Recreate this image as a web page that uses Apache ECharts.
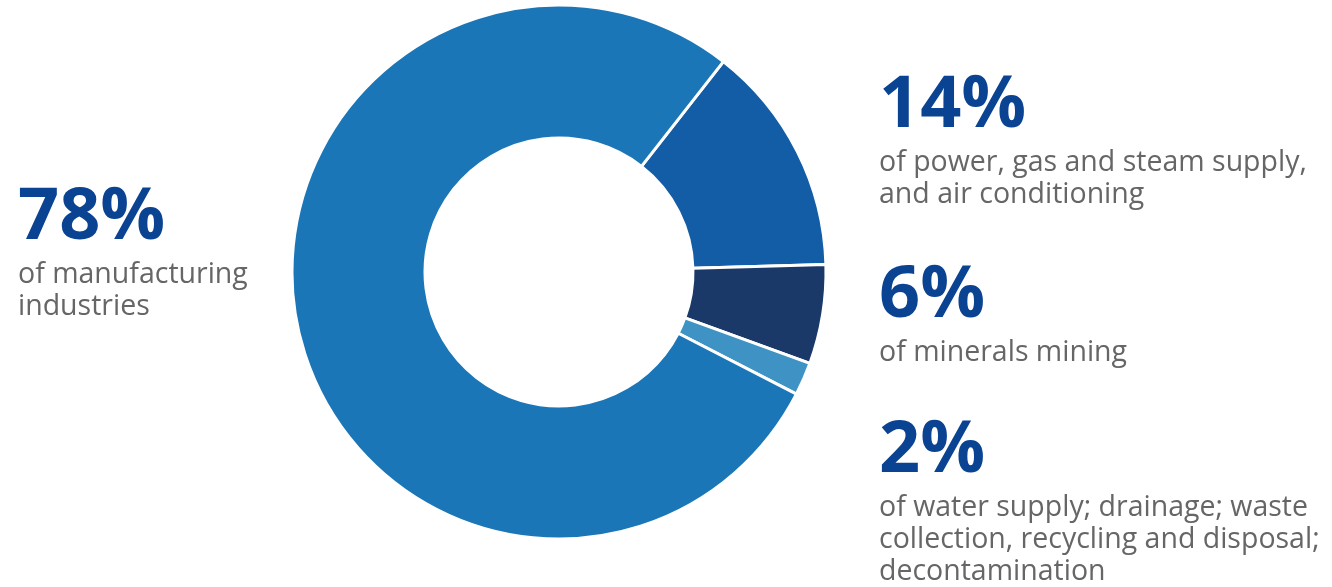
<!DOCTYPE html>
<html><head><meta charset="utf-8">
<script src="https://cdn.jsdelivr.net/npm/echarts@6/dist/echarts.min.js"></script>
<style>html,body{margin:0;padding:0;background:#fff}#c{width:1332px;height:587px}</style>
</head><body><div id="c"></div>
<script>
var categories = ['power, gas and steam supply, and air conditioning','minerals mining','water supply; drainage; waste collection, recycling and disposal; decontamination','manufacturing industries'];
var values = [14, 6, 2, 78];
var colors = ['#135ca6', '#1b3968', '#3f93c4', '#1b76b8'];
var pctLabels = ['14%', '6%', '2%', '78%'];
var descLines = [
  ['of power, gas and steam supply,', 'and air conditioning'],
  ['of minerals mining'],
  ['of water supply; drainage; waste', 'collection, recycling and disposal;', 'decontamination'],
  ['of manufacturing', 'industries']
];
var labelPos = [[879, 70], [879, 260], [879, 415], [18, 182]];

var chart = echarts.init(document.getElementById('c'));
var graphics = [];
for (var i = 0; i < pctLabels.length; i++) {
  graphics.push({type:'text', left: labelPos[i][0], top: labelPos[i][1],
    style:{text: pctLabels[i], fill:'#0b4393', font:'bold 72px "Open Sans", sans-serif'}});
  graphics.push({type:'text', left: labelPos[i][0], top: labelPos[i][1] + 77,
    style:{text: descLines[i].join('\n'), fill:'#666666', font:'28.5px "Open Sans", sans-serif', lineHeight: 32}});
}
chart.setOption({
  animation:false,
  graphic: graphics,
  series:[{
    type:'pie',
    center:[559, 272],
    radius:[134, 267],
    startAngle:52,
    clockwise:true,
    label:{show:false},
    labelLine:{show:false},
    itemStyle:{borderColor:'#fff', borderWidth:3},
    emphasis:{disabled:true},
    data: values.map(function(v,i){return {value:v, name:categories[i], itemStyle:{color:colors[i]}};})
  }]
});
</script></body></html>
